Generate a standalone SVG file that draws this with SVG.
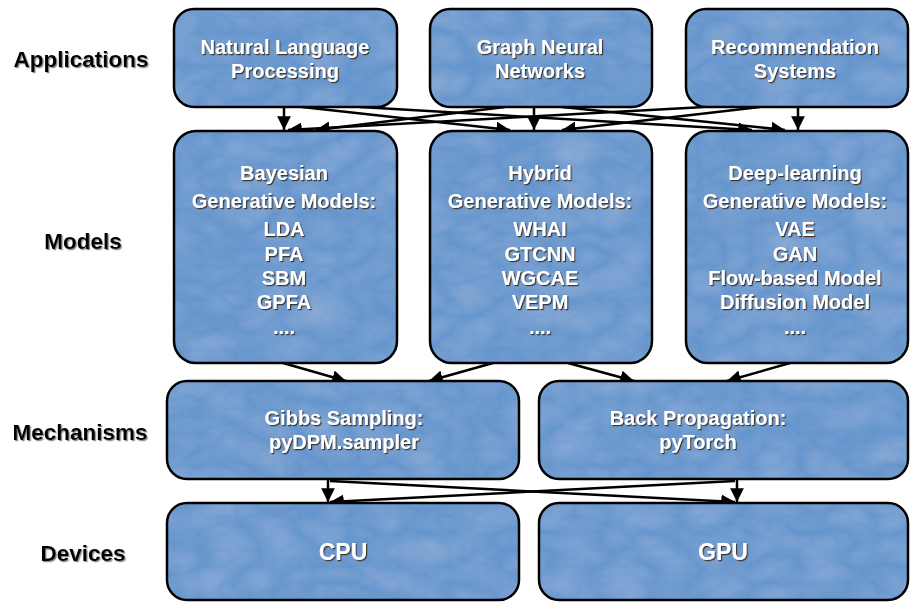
<svg xmlns="http://www.w3.org/2000/svg" width="918" height="610" viewBox="0 0 918 610">
<style>
.bf{fill:#6494cc;filter:url(#tex)}
.bs{fill:none;stroke:#000;stroke-width:2.5}
.t{font-family:"Liberation Sans",Arial,sans-serif;font-weight:bold;font-size:20px;fill:#fff;text-anchor:middle;filter:url(#sh)}
.big{font-size:23px}
.lbl{font-family:"Liberation Sans",Arial,sans-serif;font-weight:bold;font-size:22.5px;fill:#000;text-anchor:middle;filter:url(#sh2)}
.c{stroke:#000;stroke-width:2.5;fill:none;marker-end:url(#ah)}
</style>
<defs>
<marker id="ah" viewBox="0 0 10 10" refX="10" refY="5" markerWidth="5.5" markerHeight="5.5" orient="auto" markerUnits="strokeWidth">
<path d="M0,0 L10,5 L0,10 z" fill="#000"/>
</marker>
<filter id="tex" x="0" y="0" width="100%" height="100%">
<feTurbulence type="turbulence" baseFrequency="0.02 0.03" numOctaves="3" seed="11" result="t"/>
<feColorMatrix in="t" type="matrix" values="0 0 0 0 0.8  0 0 0 0 0.87  0 0 0 0 1  0.2 0 0 0 0" result="c"/>
<feComposite in="c" in2="SourceGraphic" operator="in" result="ci"/>
<feMerge><feMergeNode in="SourceGraphic"/><feMergeNode in="ci"/></feMerge>
</filter>
<filter id="sh" x="-10%" y="-30%" width="120%" height="160%">
<feDropShadow dx="1.2" dy="1.2" stdDeviation="0.4" flood-color="#3b2c14" flood-opacity="0.9"/>
</filter>
<filter id="sh2" x="-10%" y="-30%" width="120%" height="160%">
<feDropShadow dx="1.2" dy="1.2" stdDeviation="0.5" flood-color="#6f6a78" flood-opacity="0.8"/>
</filter>
</defs>
<rect width="918" height="610" fill="#fff"/>

<g id="labels">
<text class="lbl" x="81" y="67">Applications</text>
<text class="lbl" x="83" y="249">Models</text>
<text class="lbl" x="80" y="440">Mechanisms</text>
<text class="lbl" x="83" y="561">Devices</text>
</g>

<g id="connectors">
<line class="c" x1="284" y1="107" x2="284" y2="130"/>
<line class="c" x1="534" y1="107" x2="534" y2="130"/>
<line class="c" x1="798" y1="107" x2="798" y2="130"/>
<line class="c" x1="302" y1="107" x2="510" y2="130"/>
<line class="c" x1="360" y1="107" x2="752" y2="130"/>
<line class="c" x1="505" y1="107" x2="316" y2="130"/>
<line class="c" x1="562" y1="107" x2="785" y2="130"/>
<line class="c" x1="705" y1="107" x2="288" y2="130"/>
<line class="c" x1="760" y1="107" x2="562" y2="130"/>
<line class="c" x1="283" y1="363" x2="346" y2="381"/>
<line class="c" x1="493" y1="363" x2="429" y2="381"/>
<line class="c" x1="568" y1="363" x2="634" y2="381"/>
<line class="c" x1="790" y1="363" x2="727" y2="381"/>
<line class="c" x1="328" y1="479" x2="328" y2="502"/>
<line class="c" x1="737" y1="479" x2="737" y2="502"/>
<line class="c" x1="330" y1="481" x2="735" y2="502"/>
<line class="c" x1="735" y1="481" x2="330" y2="502"/>
</g>

<g id="app-nlp">
<rect class="bf" x="174" y="9" width="223" height="98" rx="20"/>
<rect class="bs" x="174" y="9" width="223" height="98" rx="20"/>
<text class="t" x="285" y="54">Natural Language</text>
<text class="t" x="285" y="78">Processing</text>
</g>
<g id="app-gnn">
<rect class="bf" x="430" y="9" width="222" height="98" rx="20"/>
<rect class="bs" x="430" y="9" width="222" height="98" rx="20"/>
<text class="t" x="540" y="54">Graph Neural</text>
<text class="t" x="540" y="78">Networks</text>
</g>
<g id="app-rec">
<rect class="bf" x="686" y="9" width="222" height="98" rx="20"/>
<rect class="bs" x="686" y="9" width="222" height="98" rx="20"/>
<text class="t" x="795" y="54">Recommendation</text>
<text class="t" x="795" y="78">Systems</text>
</g>

<g id="model-bayes">
<rect class="bf" x="174" y="131" width="223" height="232" rx="22"/>
<rect class="bs" x="174" y="131" width="223" height="232" rx="22"/>
<text class="t" x="284" y="180">Bayesian</text>
<text class="t" x="284" y="208">Generative Models:</text>
<text class="t" x="284" y="236">LDA</text>
<text class="t" x="284" y="261">PFA</text>
<text class="t" x="284" y="285">SBM</text>
<text class="t" x="284" y="309">GPFA</text>
<text class="t" x="284" y="334">....</text>
</g>
<g id="model-hybrid">
<rect class="bf" x="430" y="131" width="222" height="232" rx="22"/>
<rect class="bs" x="430" y="131" width="222" height="232" rx="22"/>
<text class="t" x="540" y="180">Hybrid</text>
<text class="t" x="540" y="208">Generative Models:</text>
<text class="t" x="540" y="236">WHAI</text>
<text class="t" x="540" y="261">GTCNN</text>
<text class="t" x="540" y="285">WGCAE</text>
<text class="t" x="540" y="309">VEPM</text>
<text class="t" x="540" y="334">....</text>
</g>
<g id="model-deep">
<rect class="bf" x="686" y="131" width="222" height="232" rx="22"/>
<rect class="bs" x="686" y="131" width="222" height="232" rx="22"/>
<text class="t" x="795" y="180">Deep-learning</text>
<text class="t" x="795" y="208">Generative Models:</text>
<text class="t" x="795" y="236">VAE</text>
<text class="t" x="795" y="261">GAN</text>
<text class="t" x="795" y="285">Flow-based Model</text>
<text class="t" x="795" y="309">Diffusion Model</text>
<text class="t" x="795" y="334">....</text>
</g>

<g id="mech-gibbs">
<rect class="bf" x="167" y="381" width="352" height="98" rx="20"/>
<rect class="bs" x="167" y="381" width="352" height="98" rx="20"/>
<text class="t" x="344" y="425">Gibbs Sampling:</text>
<text class="t" x="344" y="449">pyDPM.sampler</text>
</g>
<g id="mech-bp">
<rect class="bf" x="539" y="381" width="369" height="98" rx="20"/>
<rect class="bs" x="539" y="381" width="369" height="98" rx="20"/>
<text class="t" x="698" y="425">Back Propagation:</text>
<text class="t" x="698" y="449">pyTorch</text>
</g>

<g id="dev-cpu">
<rect class="bf" x="167" y="503" width="352" height="97" rx="20"/>
<rect class="bs" x="167" y="503" width="352" height="97" rx="20"/>
<text class="t big" x="343" y="560">CPU</text>
</g>
<g id="dev-gpu">
<rect class="bf" x="539" y="503" width="369" height="97" rx="20"/>
<rect class="bs" x="539" y="503" width="369" height="97" rx="20"/>
<text class="t big" x="723" y="560">GPU</text>
</g>
</svg>
